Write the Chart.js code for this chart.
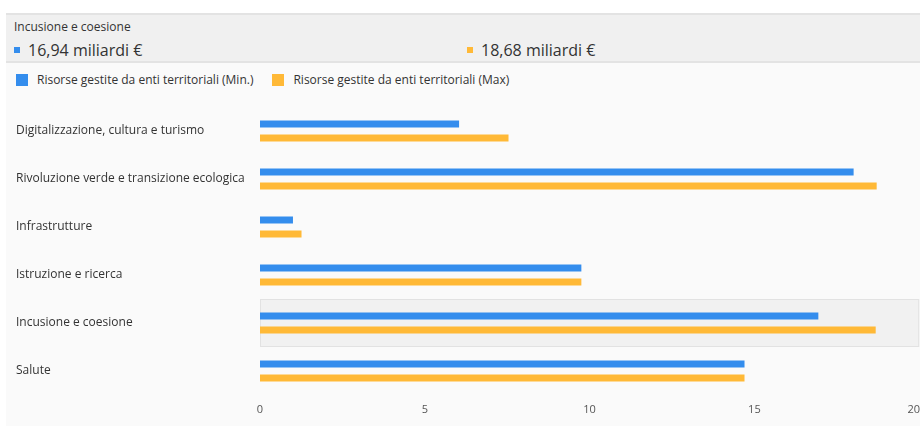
<!DOCTYPE html>
<html lang="it">
<head>
<meta charset="utf-8">
<title>Incusione e coesione</title>
<script src="https://cdn.jsdelivr.net/npm/chart.js@4.4.1/dist/chart.umd.min.js"></script>
<style>
  body {
    margin: 0;
    width: 920px;
    height: 426px;
    overflow: hidden;
    background: #fff;
    font-family: "Open Sans", sans-serif;
    color: #333;
    position: relative;
  }
  .header {
    position: absolute;
    left: 6px;
    top: 13px;
    width: 914px;
    height: 46px;
    background: #f0f0f0;
    border-top: 2px solid #e3e3e3;
    border-bottom: 2px solid #e3e3e3;
  }
  .header .title {
    position: absolute;
    left: 8px;
    top: 3px;
    font-size: 12px;
  }
  .header .value {
    position: absolute;
    top: 24px;
    font-size: 16px;
    white-space: nowrap;
  }
  .header .value i {
    display: inline-block;
    width: 6px;
    height: 6px;
    margin-right: 8px;
    vertical-align: 3px;
  }
  .panel {
    position: absolute;
    left: 6px;
    top: 63px;
    width: 914px;
    height: 363px;
    background: #fafafa;
  }
  #legend {
    position: absolute;
    left: 10px;
    top: 8px;
    font-size: 12px;
    white-space: nowrap;
  }
  #legend span {
    display: inline-block;
    margin-right: 19px;
  }
  #legend i {
    display: inline-block;
    width: 12px;
    height: 12px;
    margin-right: 9px;
    vertical-align: -2px;
  }
  .chart-box {
    position: absolute;
    left: 6px;
    top: 95px;
    width: 933px;
    height: 331px;
  }
</style>
</head>
<body>
<div class="header">
  <div class="title" id="title"></div>
  <div class="value" id="val0" style="left:8px"></div>
  <div class="value" id="val1" style="left:461px"></div>
</div>
<div class="panel">
  <div id="legend"></div>
</div>
<div class="chart-box"><canvas id="chart"></canvas></div>

<script>
const categories = [
  "Digitalizzazione, cultura e turismo",
  "Rivoluzione verde e transizione ecologica",
  "Infrastrutture",
  "Istruzione e ricerca",
  "Incusione e coesione",
  "Salute",
];
const minValues = [6.04, 18.01, 1.0, 9.75, 16.94, 14.7];
const maxValues = [7.54, 18.71, 1.26, 9.75, 18.68, 14.7];
const seriesNames = [
  "Risorse gestite da enti territoriali (Min.)",
  "Risorse gestite da enti territoriali (Max)",
];
const seriesColors = ["#348ded", "#ffb937"];
const xTicks = [0, 5, 10, 15, 20];
const selected = 4;

function fmt(v) {
  return v.toFixed(2).replace(".", ",") + " miliardi €";
}

// riquadro grigio dietro la categoria selezionata
const highlight = {
  id: "highlight",
  beforeDatasetsDraw(chart) {
    const { ctx, chartArea, scales } = chart;
    const step = chartArea.height / categories.length;
    const y = scales.y.getPixelForValue(selected) - step / 2;
    ctx.save();
    ctx.fillStyle = "#f1f1f1";
    ctx.strokeStyle = "#e2e2e2";
    ctx.lineWidth = 1;
    ctx.fillRect(chartArea.left, y, chartArea.right - chartArea.left, step);
    ctx.strokeRect(chartArea.left + 0.5, y + 0.5, chartArea.right - chartArea.left - 1, step - 1);
    ctx.restore();
  },
};

document.addEventListener("DOMContentLoaded", () => {
  document.getElementById("title").textContent = categories[selected];
  document.getElementById("val0").innerHTML =
    `<i style="background:${seriesColors[0]}"></i>${fmt(minValues[selected])}`;
  document.getElementById("val1").innerHTML =
    `<i style="background:${seriesColors[1]}"></i>${fmt(maxValues[selected])}`;
  document.getElementById("legend").innerHTML = seriesNames
    .map((n, i) => `<span><i style="background:${seriesColors[i]}"></i>${n}</span>`)
    .join("");

  Chart.defaults.font.family = '"Open Sans", sans-serif';
  Chart.defaults.color = "#333";

  new Chart(document.getElementById("chart"), {
    type: "bar",
    data: {
      labels: categories,
      datasets: [
        { label: seriesNames[0], data: minValues, backgroundColor: seriesColors[0] },
        { label: seriesNames[1], data: maxValues, backgroundColor: seriesColors[1] },
      ],
    },
    options: {
      indexAxis: "y",
      responsive: true,
      maintainAspectRatio: false,
      animation: false,
      categoryPercentage: 0.584,
      barPercentage: 0.5,
      layout: { padding: { left: 10, top: 12, right: 0, bottom: 0 } },
      plugins: {
        legend: { display: false },
        tooltip: { enabled: false },
      },
      scales: {
        x: {
          min: 0,
          max: 20,
          afterBuildTicks: (s) => { s.ticks = xTicks.map((v) => ({ value: v })); },
          grid: { display: false, drawTicks: false },
          border: { display: false },
          afterFit: (s) => { s.height = 31; },
          ticks: {
            color: "#555",
            font: { size: 11 },
            padding: 8,
            // l'ultima etichetta resta dentro il bordo
            callback: (v) => (v === 20 ? v + "\u2003" : v),
          },
        },
        y: {
          grid: { display: false, drawTicks: false },
          border: { display: false },
          afterFit: (s) => { s.width = 244; },
          ticks: { crossAlign: "far", font: { size: 12 }, color: "#333" },
        },
      },
    },
    plugins: [highlight],
  });
});
</script>
</body>
</html>
